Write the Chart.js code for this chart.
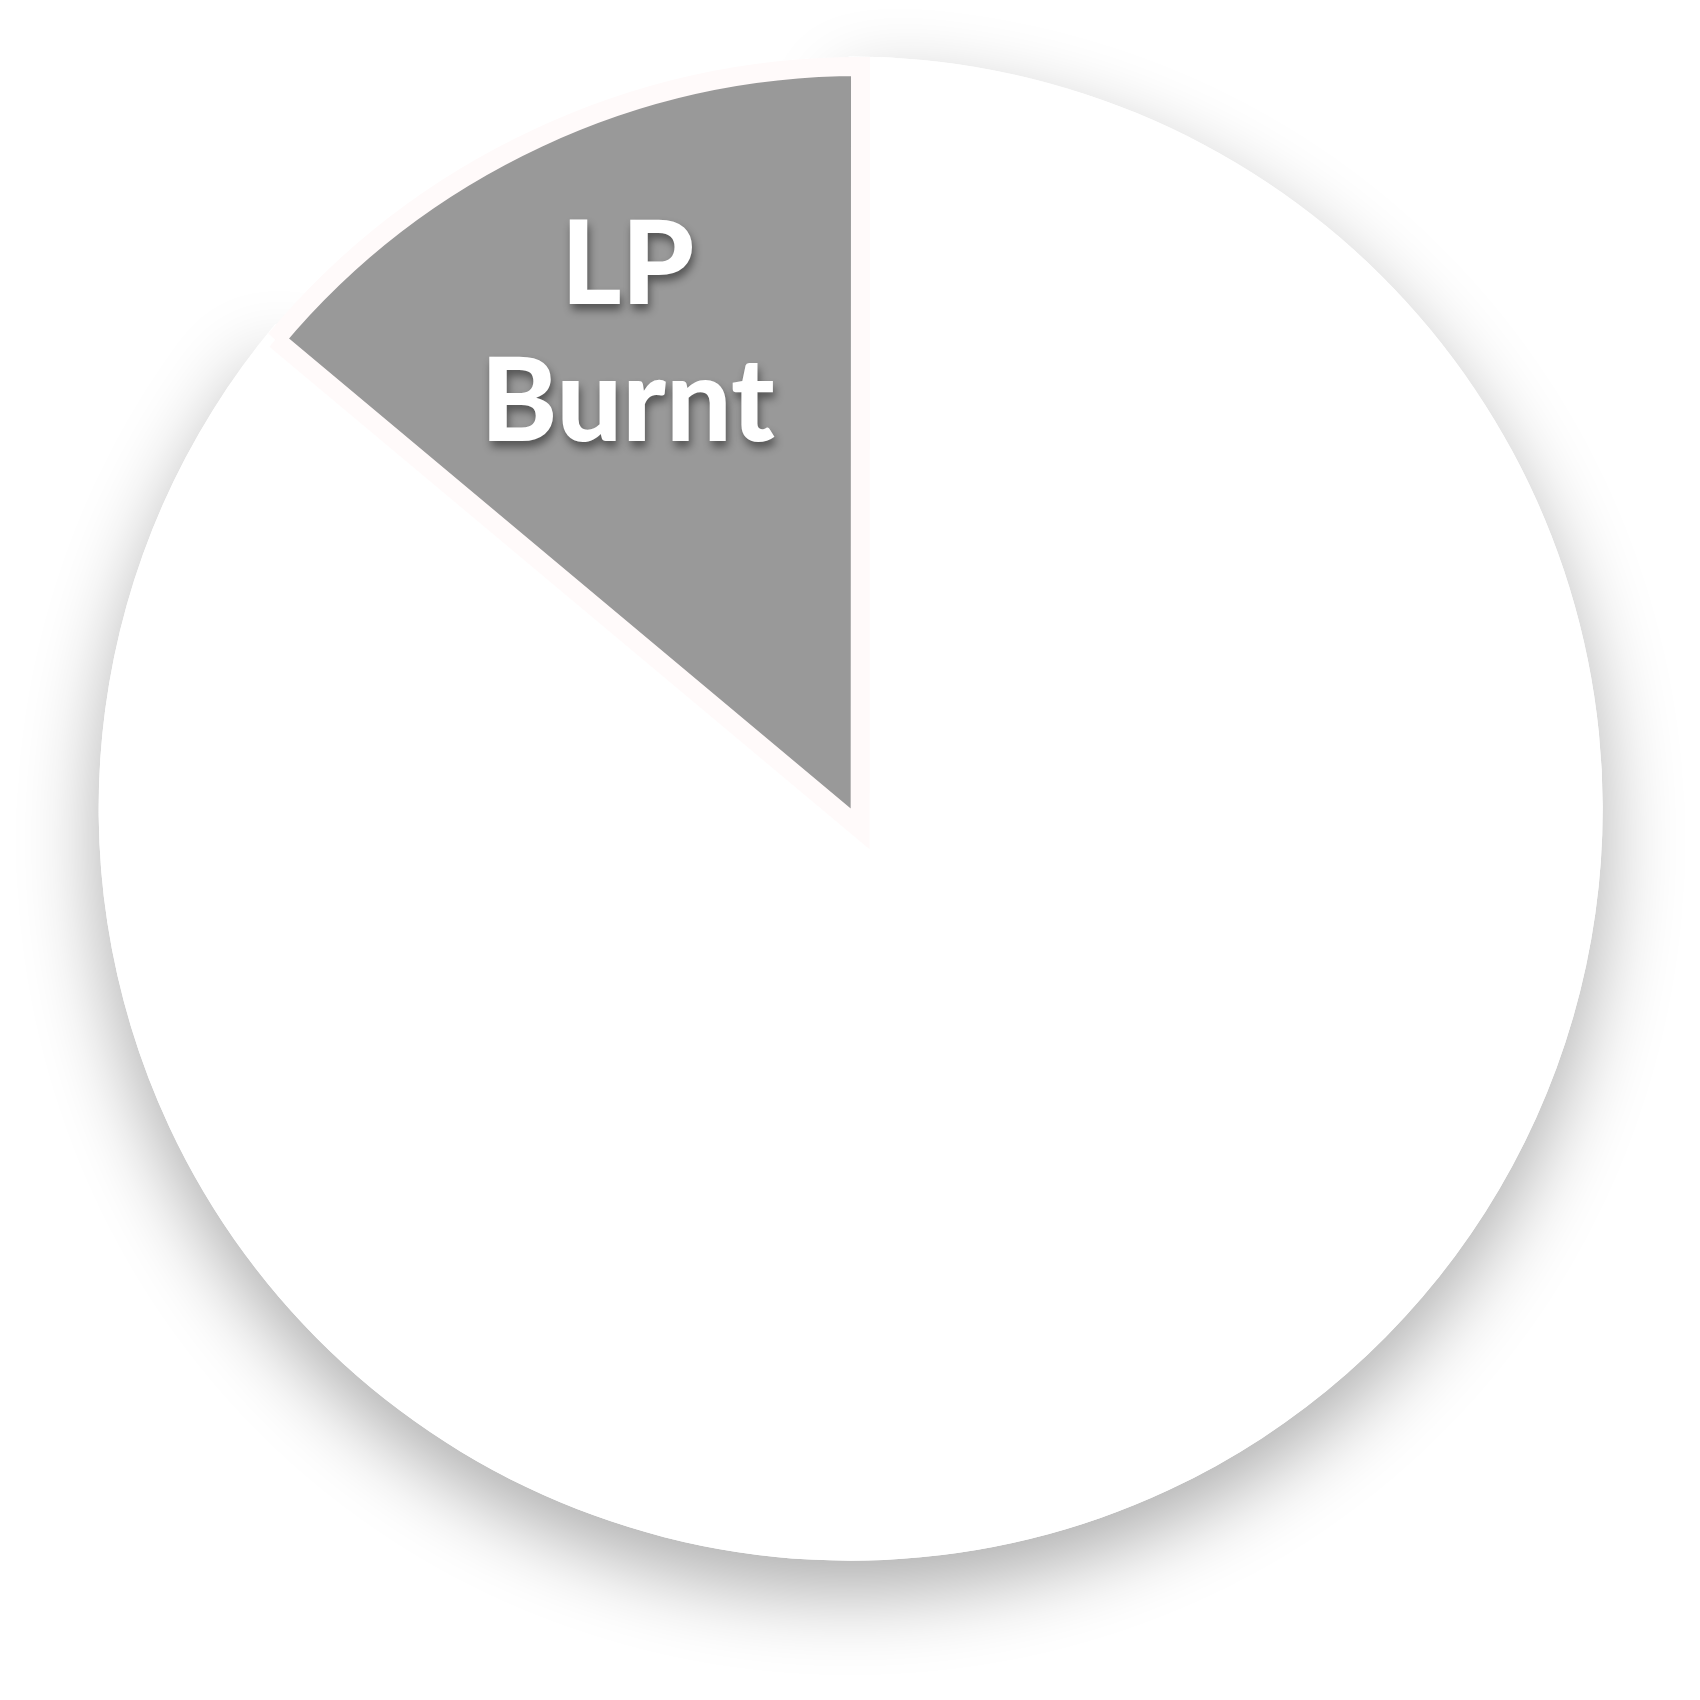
<!DOCTYPE html>
<html lang="en">

<head>
    <meta charset="UTF-8">
    <title>LP Burnt pie</title>
    <style>
        html, body { margin: 0; padding: 0; background: #ffffff; }
        canvas { display: block; }
    </style>
</head>

<body>
    <canvas id="chart" width="1700" height="1700"></canvas>

    <script src="https://cdn.jsdelivr.net/npm/chart.js@4/dist/chart.umd.min.js"></script>
    <script>
        // data
        const categories = ['Other', 'LP Burnt'];
        const values = [86.1, 13.9];
        const sliceColors = ['#ffffff', '#999999'];
        const showLabel = [false, true];

        // soft drop shadow under the whole pie (drawn from the white arc)
        const pieShadow = {
            id: 'pieShadow',
            beforeDatasetsDraw(chart) {
                const arc = chart.getDatasetMeta(0).data[0];
                const ctx = chart.ctx;
                ctx.save();
                ctx.shadowColor = 'rgba(0, 0, 0, 0.32)';
                ctx.shadowBlur = 80;
                ctx.shadowOffsetY = 32;
                arc.draw(ctx);
                ctx.restore();
            }
        };

        // white bold labels inside the slices
        const sliceLabels = {
            id: 'sliceLabels',
            afterDatasetsDraw(chart) {
                const ctx = chart.ctx;
                const size = 116;
                const lineGap = 137;
                chart.getDatasetMeta(0).data.forEach((arc, i) => {
                    if (!showLabel[i]) return;
                    const mid = (arc.startAngle + arc.endAngle) / 2;
                    const r = arc.outerRadius * 0.706;
                    const x = arc.x + Math.cos(mid) * r;
                    const y = arc.y + Math.sin(mid) * r;
                    const lines = categories[i].split(' ');
                    ctx.save();
                    ctx.font = '900 ' + size + 'px Lato';
                    ctx.fillStyle = '#ffffff';
                    ctx.textAlign = 'center';
                    ctx.textBaseline = 'alphabetic';
                    ctx.shadowColor = 'rgba(0, 0, 0, 0.45)';
                    ctx.shadowBlur = 9;
                    ctx.shadowOffsetX = 2;
                    ctx.shadowOffsetY = 6;
                    lines.forEach((line, k) => {
                        const cy = y + (k - (lines.length - 1) / 2) * lineGap;
                        ctx.fillText(line, x, cy + size * 0.36);
                    });
                    ctx.restore();
                });
            }
        };

        const ctx = document.getElementById('chart').getContext('2d');
        const chart = new Chart(ctx, {
            type: 'pie',
            data: {
                labels: categories,
                datasets: [{
                    data: values,
                    backgroundColor: sliceColors,
                    borderColor: ['#ffffff', '#fffafa'],
                    borderWidth: [0, 19],
                    borderJoinStyle: 'miter',
                    offset: [-50.3, -39.3],
                    hoverOffset: 0
                }]
            },
            options: {
                responsive: false,
                devicePixelRatio: 1,
                animation: false,
                radius: 764.6,
                layout: {
                    padding: { left: 12, right: 0, top: 0, bottom: 60 }
                },
                plugins: {
                    legend: { display: false },
                    tooltip: { enabled: false }
                },
                events: []
            },
            plugins: [pieShadow, sliceLabels]
        });
    </script>
</body>

</html>
